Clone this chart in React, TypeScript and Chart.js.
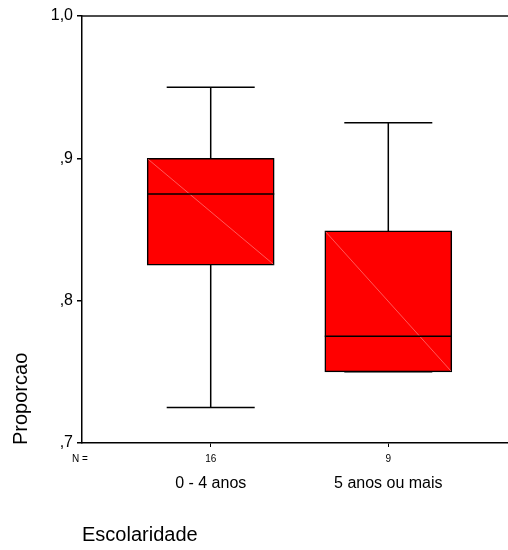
import React, { useEffect, useRef } from 'react';
import { Chart, registerables } from 'chart.js';

Chart.register(...registerables);

const categories = ['0 - 4 anos', '5 anos ou mais'];
const categoryPositions = [1, 2];
const counts = [16, 9];
const minValues = [0.725, 0.75];
const q1Values = [0.825, 0.75];
const medianValues = [0.875, 0.775];
const q3Values = [0.9, 0.849];
const maxValues = [0.95, 0.925];
const yTickValues = [0.7, 0.8, 0.9, 1.0];
const yTickLabels = [',7', ',8', ',9', '1,0'];
const xTitle = 'Escolaridade';
const yTitle = 'Proporcao';
const countLabel = 'N =';

const FONT = '"Liberation Sans", Arial, Helvetica, sans-serif';

export default function App() {
  const ref = useRef<HTMLCanvasElement>(null);

  useEffect(() => {
    if (!ref.current) return;

    const boxPlugin = {
      id: 'boxExtras',
      afterDatasetsDraw(chart: any) {
        const { ctx, chartArea, scales } = chart;
        const x = scales.x;
        const y = scales.y;
        const half = 63.5;
        const capHalf = 44;
        ctx.save();
        // top frame line
        ctx.strokeStyle = '#111';
        ctx.lineWidth = 1.5;
        ctx.beginPath();
        ctx.moveTo(chartArea.left, chartArea.top);
        ctx.lineTo(chartArea.right, chartArea.top);
        ctx.stroke();

        categoryPositions.forEach((p, i) => {
          const cx = x.getPixelForValue(p);
          const yMin = y.getPixelForValue(minValues[i]);
          const yQ1 = y.getPixelForValue(q1Values[i]);
          const yMed = y.getPixelForValue(medianValues[i]);
          const yQ3 = y.getPixelForValue(q3Values[i]);
          const yMax = y.getPixelForValue(maxValues[i]);

          // diagonal highlight
          ctx.strokeStyle = '#ff7070';
          ctx.lineWidth = 0.8;
          ctx.beginPath();
          ctx.moveTo(cx - half + 1, yQ3 + 1);
          ctx.lineTo(cx + half - 1, yQ1 - 1);
          ctx.stroke();

          ctx.strokeStyle = '#000';
          ctx.lineWidth = 1.5;
          // median
          ctx.beginPath();
          ctx.moveTo(cx - half, yMed);
          ctx.lineTo(cx + half, yMed);
          ctx.stroke();
          // whiskers
          ctx.beginPath();
          ctx.moveTo(cx, yQ3);
          ctx.lineTo(cx, yMax);
          ctx.moveTo(cx - capHalf, yMax);
          ctx.lineTo(cx + capHalf, yMax);
          ctx.moveTo(cx, yQ1);
          ctx.lineTo(cx, yMin);
          ctx.moveTo(cx - capHalf, yMin);
          ctx.lineTo(cx + capHalf, yMin);
          ctx.stroke();
        });
        ctx.restore();
      },
      afterDraw(chart: any) {
        const { ctx, chartArea, scales } = chart;
        const x = scales.x;
        ctx.save();
        ctx.fillStyle = '#000';
        ctx.textBaseline = 'alphabetic';
        ctx.textAlign = 'center';
        ctx.font = `10px ${FONT}`;
        ctx.fillText(countLabel, chartArea.left - 2, chartArea.bottom + 19);
        categoryPositions.forEach((p, i) => {
          const cx = x.getPixelForValue(p);
          ctx.font = `10px ${FONT}`;
          ctx.fillText(String(counts[i]), cx, chartArea.bottom + 19);
          ctx.font = `16px ${FONT}`;
          ctx.fillText(categories[i], cx, chartArea.bottom + 45);
        });
        ctx.textAlign = 'left';
        ctx.font = `20px ${FONT}`;
        ctx.fillText(xTitle, chartArea.left, chartArea.bottom + 98);
        ctx.translate(27, chartArea.bottom + 2);
        ctx.rotate(-Math.PI / 2);
        ctx.fillText(yTitle, 0, 0);
        ctx.restore();
      },
    };

    const chart = new Chart(ref.current, {
      type: 'bar',
      data: {
        datasets: [
          {
            data: categoryPositions.map((p, i) => ({ x: p, y: [q1Values[i], q3Values[i]] })) as any,
            backgroundColor: '#ff0000',
            borderColor: '#000',
            borderWidth: 1.5,
            borderSkipped: false,
            barThickness: 127,
          },
        ],
      },
      options: {
        animation: false,
        responsive: false,
        maintainAspectRatio: false,
        devicePixelRatio: 1,
        layout: { padding: { top: 16, right: 0, bottom: 0, left: 0 } },
        plugins: {
          legend: { display: false },
          tooltip: { enabled: false },
        },
        scales: {
          x: {
            type: 'linear',
            min: 0.2753,
            max: 2.674,
            offset: false,
            afterBuildTicks: (s: any) => {
              s.ticks = categoryPositions.map((v) => ({ value: v }));
            },
            ticks: { display: false },
            grid: {
              offset: false,
              drawOnChartArea: false,
              drawTicks: true,
              tickLength: 4,
              color: '#000',
              lineWidth: 1,
            },
            border: { color: '#000', width: 1.5 },
            afterFit: (s: any) => {
              s.height = 107;
            },
          },
          y: {
            min: 0.7,
            max: 1.0,
            afterBuildTicks: (s: any) => {
              s.ticks = yTickValues.map((v) => ({ value: v }));
            },
            ticks: {
              callback: (v: any) => {
                const idx = yTickValues.findIndex((t) => Math.abs(t - Number(v)) < 1e-9);
                return idx >= 0 ? yTickLabels[idx] : '';
              },
              font: { family: FONT, size: 16 },
              color: '#000',
              padding: 4,
            },
            grid: {
              drawOnChartArea: false,
              drawTicks: true,
              tickLength: 5,
              color: '#000',
              lineWidth: 1.5,
            },
            border: { color: '#000', width: 1.5 },
            afterFit: (s: any) => {
              s.width = 82;
            },
          },
        },
      },
      plugins: [boxPlugin],
    } as any);

    return () => chart.destroy();
  }, []);

  return (
    <div style={{ position: 'fixed', left: 0, top: 0, width: 508, height: 550, background: '#fff' }}>
      <canvas ref={ref} width={508} height={550} style={{ display: 'block' }} />
    </div>
  );
}
